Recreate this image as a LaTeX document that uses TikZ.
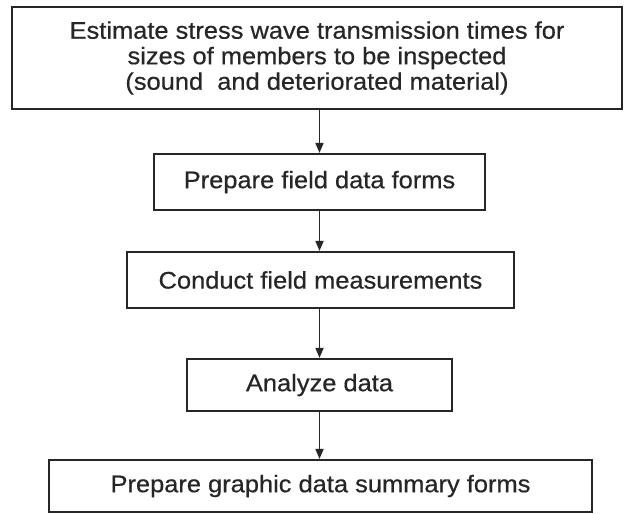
\documentclass[tikz,border=0pt]{standalone}
\usepackage{fontspec}
\setmainfont{Liberation Sans}[BoldFont={Liberation Sans},BoldFeatures={FakeBold=0.5}]
\usepackage{graphicx}
\usetikzlibrary{arrows.meta}
\newcommand{\sxt}[1]{\scalebox{1.06}[1]{#1}}
\begin{document}
\begin{tikzpicture}[x=1pt,y=-1pt,
  boxstyle/.style={draw=black!85, line width=2.2pt, rectangle, inner sep=0pt,
    text=black!85, align=center, font=\fontsize{24}{25.5}\selectfont\bfseries},
  arrowstyle/.style={draw=black!85, line width=1.6pt, -{Triangle[length=10pt,width=8pt]}}]
\useasboundingbox (0,0) rectangle (624,514);
\fill[white] (0,0) rectangle (624,514);
\node[boxstyle, minimum width=610pt, minimum height=102pt] (b1) at (317,58)
  {\sxt{Estimate stress wave transmission times for}\\
   \sxt{sizes of members to be inspected}\\
   \sxt{(sound\ \ and deteriorated material)}};
\node[boxstyle, minimum width=331pt, minimum height=56pt] (b2) at (319.5,182)
  {\sxt{Prepare field data forms}};
\node[boxstyle, minimum width=387pt, minimum height=56pt] (b3) at (320.5,280)
  {\sxt{Conduct field measurements}};
\node[boxstyle, minimum width=265pt, minimum height=52pt] (b4) at (319.5,385)
  {\sxt{Analyze data}};
\node[boxstyle, minimum width=543pt, minimum height=52pt] (b5) at (320.5,486)
  {\sxt{Prepare graphic data summary forms}};
\draw[arrowstyle] (b1.south -| b2.north) -- (b2.north);
\draw[arrowstyle] (b2.south) -- (b3.north -| b2.south);
\draw[arrowstyle] (b3.south -| b2.south) -- (b4.north -| b2.south);
\draw[arrowstyle] (b4.south -| b2.south) -- (b5.north -| b2.south);
\end{tikzpicture}
\end{document}
